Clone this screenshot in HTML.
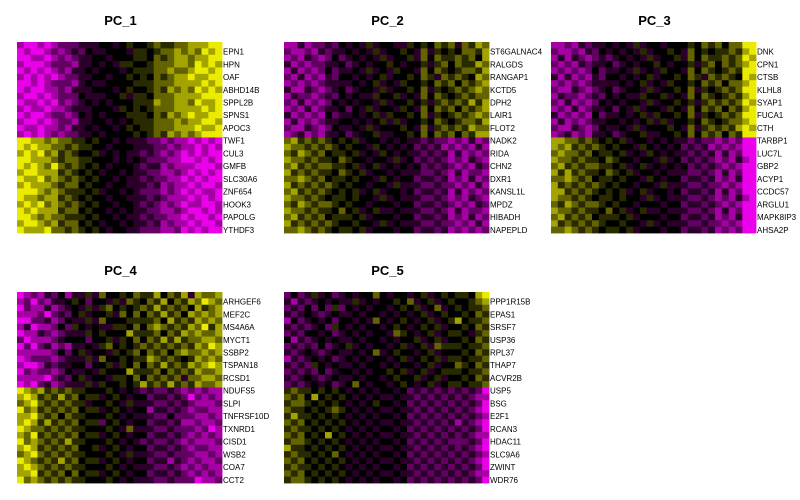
<!DOCTYPE html>
<html><head><meta charset="utf-8">
<style>
html,body{margin:0;padding:0;background:#fff;width:800px;height:500px;overflow:hidden}
svg text{font-family:"Liberation Sans",sans-serif}
</style></head>
<body>
<svg id="chart" width="800" height="500" viewBox="0 0 800 500"></svg>
<script>
const panelTitles = ["PC_1","PC_2","PC_3","PC_4","PC_5"];
const geneLabels1 = ["EPN1","HPN","OAF","ABHD14B","SPPL2B","SPNS1","APOC3","TWF1","CUL3","GMFB","SLC30A6","ZNF654","HOOK3","PAPOLG","YTHDF3"];
const geneLabels2 = ["ST6GALNAC4","RALGDS","RANGAP1","KCTD5","DPH2","LAIR1","FLOT2","NADK2","RIDA","CHN2","DXR1","KANSL1L","MPDZ","HIBADH","NAPEPLD"];
const geneLabels3 = ["DNK","CPN1","CTSB","KLHL8","SYAP1","FUCA1","CTH","TARBP1","LUC7L","GBP2","ACYP1","CCDC57","ARGLU1","MAPK8IP3","AHSA2P"];
const geneLabels4 = ["ARHGEF6","MEF2C","MS4A6A","MYCT1","SSBP2","TSPAN18","RCSD1","NDUFS5","SLPI","TNFRSF10D","TXNRD1","CISD1","WSB2","COA7","CCT2"];
const geneLabels5 = ["PPP1R15B","EPAS1","SRSF7","USP36","RPL37","THAP7","ACVR2B","USP5","BSG","E2F1","RCAN3","HDAC11","SLC9A6","ZWINT","WDR76"];
// scaled expression, 0 = strong magenta, 4 = black, 8 = strong yellow
const values1 = [
"100101222333443454456556677788","010012123243344435545667676878","001101212334434445546567767788","100012221334343554456667768787","010101213343444345556676678878",
"101010122334434454546567787788","001012221343344445556667777878","010011213334443454456576768787","100101222433344535546667777888","011010212343434445557667768778",
"101101123334443545456667777878","010012212434344455546576787788","100101221334434345556667677887","011011213343443454556667778778","101012122334344445456576767888",
"887767665545443433322121101010","878776656554434443332212110101","787867565445343433232121010100","887776566554443434322211001010","878768656545434443233121110001",
"788777565454344343322112101010","877867656545443433232211010100","787776566454434433323121101001","888767655545344343222121010110","877677565454434433323211101010",
"787867656545443443232121011001","878777566454434343322112100101","887676655545443433232211010010","788767566454344343323121101001","877786656545434433222112010100"];
const values2 = [
"113122324343534433545465636576","211213233434353445436354546657","121321242343435344536465565647","312122334234344543445356465576","131212423343534354436465456657",
"213121324434345344546536565476","121212333343453435445465646567","311321234234435344546354565676","132212324343354453436465456566","213121243434435344545356565757",
"121312334243534435436465646567","312121423343453544546354565676","131212334434345353445465456657","211321243343534445436356565766","123121334234453344546465646577",
"675656545453443434332322121312","766565654544354343423231212131","657656455453435434332323131212","766565546544344353423232121321","675656655453453434342323212132",
"756565546545344343332232131221","667656455454435434423323121312","756565654544344353332232212131","675656545453453443423323131212","766565455454435343332232121321",
"657656654544344434423323212132","766565546453453343332232131221","675656455545344434423323121312","756565654454435343332232212131","667656545545344434423323121212"];
const values3 = [
"112132334343534434445465646688","211213243434353445436454556578","131321232343435344536465565687","212132334234344543445356465678","121212423343534354436465456588",
"313121324434345344546536565487","121212333343453435445465646678","211321234234435344546354565688","132212324343354453436465456578","213121243434435344545356565687",
"121312334243534435436465646578","312121423343453544546354565688","131212334434345353445465456678","211321243343534445436356565787","123121334234453344546465646588",
"776656545453443434332322121200","767565654544354343423231212100","676656455453435434332323131200","766565546544344353423232121310","675656655453453434342323212100",
"757565546545344343332232131200","667656455454435434423323121300","756565654544344353332232212100","775656545453453443423323131200","766565455454435343332232121310",
"657656654544344434423323212100","766565546453453343332232131200","675656455545344434423323121300","756565654454435343332232212100","667656545545344434423323121200"];
const values4 = [
"012132413353644546557465737667","120213345424435365465746576876","021131234353564545657565647567","111202324534453646465756476767","002231243353644455556475657676",
"130112425434335546467656576857","011321233354544475556465767667","201112344424453546465757566776","020231213343564545656565657687","111112424534435456465646766767",
"012221233353644545576565457676","100132334424453546465756576787","021221243343544475556465657667","111102324534435546465656366776","010231233353544545756575657667",
"876756565544454343232232121211","787565756455345434423323202121","678656565534454353332232321112","867565656455345434413323212211","778656465544454343332242221121",
"787575656455245434423323112112","876656565544454363332232221201","768565656455345434423323212121","867656575544454343232232121112","787565656445345434423323212211",
"678656565544454353332232221121","876565756455345434423313212112","787656565544454343332232121211","778565646455345434423323212121","867656565544454343332232220112"];
const values5 = [
"242353423434464344345345455478","313234343353434454634534544567","232424252434344345453463454556","323432343343443434345345445465","142343424434364345434534574556",
"323234254343443454345453445465","232443423434344365434534554356","413234343343443434453453445465","232324234534344345345365554556","323432343343463454434534445465",
"132343423434344345345453554556","323254343343443434434534465465","232324234434344545345345554556","323432343343443454453453445465","232343423464344345434534554556",
"565545454343434434232323232320","656474545434343343323232323211","566545454343454434232323232320","655454565434343343323232323210","575545454343434434232323232321",
"656454545434343343323232313210","565545454343434434232323232320","656454745434343343323232323211","566545454343434434232323222320","755454545434343343323232323210",
"565545464343434434232323232321","656454545434343343323232323210","565545454343434434232323232320","656454545434343343323232323211","566545454343434434232323232320"];

const allValues = [values1,values2,values3,values4,values5];
const allLabels = [geneLabels1,geneLabels2,geneLabels3,geneLabels4,geneLabels5];
const NS = "http://www.w3.org/2000/svg";
const svg = document.getElementById("chart");
const origins = [[17,42],[284,42],[551,42],[17,292],[284,292]];
const W = 205, H = 191;

function colorFor(v){
  const t = (v-4)/4;
  const m = Math.pow(Math.abs(t), 1.25);
  const c = Math.round(m*235);
  if (t >= 0) return `rgb(${c},${c},0)`;
  return `rgb(${c},0,${c})`;
}

for (let p=0;p<5;p++){
  const [ox,oy] = origins[p];
  const rows = allValues[p];
  const nr = rows.length, nc = rows[0].length;
  const cw = W/nc, ch = H/nr;
  const xScale = c => ox + c*cw;
  const yScale = r => oy + r*ch;
  const g = document.createElementNS(NS,"g");
  
  
  svg.appendChild(g);
  const title = document.createElementNS(NS,"text");
  
  
  title.setAttribute("x", ox + W/2 + 1);
  title.setAttribute("y", oy - 17);
  title.setAttribute("text-anchor","middle");
  title.setAttribute("font-size","13");
  title.setAttribute("font-weight","bold");
  title.textContent = panelTitles[p];
  g.appendChild(title);
  for (let r=0;r<nr;r++){
    for (let c=0;c<nc;c++){
      const rect = document.createElementNS(NS,"rect");
      
      
      rect.setAttribute("x", xScale(c).toFixed(2));
      rect.setAttribute("y", yScale(r).toFixed(2));
      rect.setAttribute("width", (cw+0.4).toFixed(2));
      rect.setAttribute("height", (ch+0.4).toFixed(2));
      rect.setAttribute("fill", colorFor(+rows[r][c]));
      g.appendChild(rect);
    }
  }
  const labels = allLabels[p];
  for (let i=0;i<labels.length;i++){
    const t = document.createElementNS(NS,"text");
    
    
    t.setAttribute("x", ox + W + 1);
    t.setAttribute("y", yScale(2*i+1.5) + 3);
    t.setAttribute("font-size","8");
    t.setAttribute("fill","#000");
    t.textContent = labels[i];
    g.appendChild(t);
  }
}
</script>
</body></html>
